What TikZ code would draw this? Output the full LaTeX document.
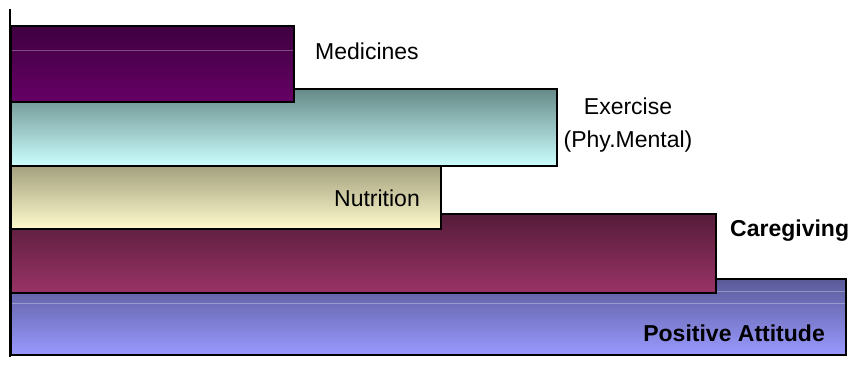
\documentclass[tikz,border=0pt]{standalone}
\usepackage{fontspec}
\setmainfont{Liberation Sans}
\definecolor{medT}{HTML}{3F0040}
\definecolor{medB}{HTML}{660066}
\definecolor{exeT}{HTML}{668A88}
\definecolor{exeB}{HTML}{CCFFFF}
\definecolor{nutT}{HTML}{A3A17F}
\definecolor{nutB}{HTML}{FFFACC}
\definecolor{carT}{HTML}{561C3A}
\definecolor{carB}{HTML}{993366}
\definecolor{posT}{HTML}{5A5A99}
\definecolor{posB}{HTML}{9999FF}
\tikzset{
  bar/.style={draw=black, line width=2pt, rectangle, inner sep=0pt, anchor=north west},
  lbl/.style={inner sep=0pt, font=\fontsize{23}{32.5}\selectfont},
  blbl/.style={inner sep=0pt, font=\fontsize{23}{26}\selectfont\bfseries},
  band/.style={line width=0.8pt, opacity=0.3}
}
\begin{document}
\begin{tikzpicture}[x=1pt,y=-1pt]
\useasboundingbox (0,0) rectangle (850,364);
% bars, drawn from back to front
\node[bar, top color=posT, bottom color=posB, minimum width=835pt, minimum height=76pt] (pos) at (10,278) {};
\draw[band, white] ([xshift=2pt,yshift=-25pt]pos.north west) -- ([xshift=-2pt,yshift=-25pt]pos.north east);
\draw[band, white] ([xshift=2pt,yshift=-13pt]pos.north west) -- ([xshift=-2pt,yshift=-13pt]pos.north east);
\node[bar, top color=carT, bottom color=carB, minimum width=705pt, minimum height=79pt] (car) at (10,213) {};
\node[bar, top color=nutT, bottom color=nutB, minimum width=430pt, minimum height=63pt] (nut) at (10,165) {};
\node[bar, top color=exeT, bottom color=exeB, minimum width=546pt, minimum height=77pt] (exe) at (10,88) {};
\node[bar, top color=medT, bottom color=medB, minimum width=283pt, minimum height=76pt] (med) at (10,25) {};
\draw[band, white] ([xshift=2pt,yshift=-25pt]med.north west) -- ([xshift=-2pt,yshift=-25pt]med.north east);
% axis
\coordinate (axtop) at (10,9);
\coordinate (axbot) at (10,357);
\draw[line width=2.5pt] (axtop) -- (axbot);
% labels
\node[lbl, anchor=base west] (tmed) at (315,59) {Medicines};
\node[lbl, align=center, anchor=center] (texe) at (628,125) {Exercise\\(Phy.Mental)};
\node[lbl, anchor=base east] (tnut) at (420,206) {Nutrition};
\node[blbl, anchor=base west] (tcar) at (730,236) {Caregiving};
\node[blbl, anchor=base east] (tpos) at (825,341) {Positive Attitude};
\end{tikzpicture}
\end{document}
